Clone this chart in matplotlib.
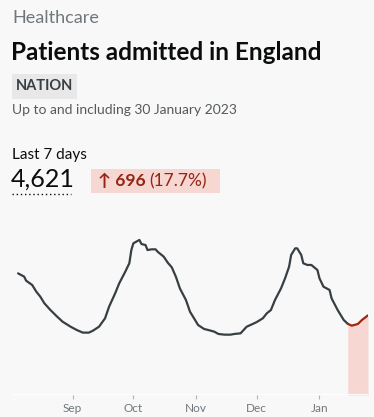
import matplotlib
matplotlib.use("Agg")
import matplotlib.pyplot as plt
import numpy as np
import pandas as pd
from matplotlib.patches import Rectangle
from matplotlib.lines import Line2D

# daily admissions
dates = pd.to_datetime([
    "2022-08-05", "2022-08-08", "2022-08-09", "2022-08-12", "2022-08-14", "2022-08-16",
    "2022-08-18", "2022-08-21", "2022-08-24", "2022-08-27", "2022-08-31", "2022-09-03",
    "2022-09-06", "2022-09-09", "2022-09-11", "2022-09-14", "2022-09-17", "2022-09-19",
    "2022-09-22", "2022-09-24", "2022-09-27", "2022-09-29", "2022-09-30", "2022-10-01",
    "2022-10-03", "2022-10-04", "2022-10-05", "2022-10-07", "2022-10-08", "2022-10-10",
    "2022-10-12", "2022-10-13", "2022-10-16", "2022-10-18", "2022-10-20", "2022-10-22",
    "2022-10-24", "2022-10-27", "2022-10-29", "2022-10-31", "2022-11-02", "2022-11-05",
    "2022-11-07", "2022-11-10", "2022-11-12", "2022-11-15", "2022-11-18", "2022-11-20",
    "2022-11-23", "2022-11-26", "2022-11-29", "2022-12-01", "2022-12-04", "2022-12-06",
    "2022-12-08", "2022-12-10", "2022-12-13", "2022-12-15", "2022-12-17", "2022-12-18",
    "2022-12-20", "2022-12-21", "2022-12-23", "2022-12-24", "2022-12-26", "2022-12-28",
    "2022-12-31", "2023-01-01", "2023-01-03", "2023-01-06", "2023-01-07", "2023-01-10",
    "2023-01-13", "2023-01-15", "2023-01-17", "2023-01-20", "2023-01-22", "2023-01-25",
])
admissions = [
    1012, 985, 951, 915, 860, 818,
    763, 707, 657, 610, 568, 541,
    519, 519, 535, 568, 638, 735,
    846, 929, 1026, 1096, 1206, 1262,
    1281, 1290, 1256, 1248, 1206, 1212,
    1212, 1192, 1151, 1101, 1062, 985,
    887, 790, 693, 638, 582, 549,
    541, 527, 508, 502, 502, 508,
    513, 568, 591, 607, 638, 680,
    707, 790, 887, 971, 1068, 1165,
    1220, 1220, 1165, 1096, 1082, 1082,
    1040, 971, 901, 874, 804, 707,
    624, 592, 577, 591, 624, 663,
]
recent_start = pd.Timestamp("2023-01-15")
month_ticks = pd.to_datetime(["2022-09-01", "2022-10-01", "2022-11-01", "2022-12-01", "2023-01-01"])
month_labels = ["Sep", "Oct", "Nov", "Dec", "Jan"]

W, H = 374, 417
BG = "#f8f8f8"
plt.rcParams["font.family"] = ["Lato", "DejaVu Sans"]

fig = plt.figure(figsize=(W / 100, H / 100), dpi=100, facecolor=BG)


def px(x, y):
    return x / W, 1 - y / H


# header
fig.text(*px(12, 18), "Healthcare", fontsize=13, color="#6f777b", va="center")
fig.text(*px(11, 53), "Patients admitted in England", fontsize=17.5, fontweight="bold",
         color="#0b0c0c", va="center")
fig.patches.append(Rectangle(px(12, 99), 65 / W, 25 / H, transform=fig.transFigure,
                             facecolor="#e8e8e8", edgecolor="none"))
fig.text(*px(44.5, 86.5), "NATION", fontsize=10.5, fontweight="bold", color="#383f43",
         ha="center", va="center")
fig.text(*px(12, 110), "Up to and including 30 January 2023", fontsize=10,
         color="#555a5e", va="center")

# headline figure
fig.text(*px(12, 155), "Last 7 days", fontsize=11, color="#0b0c0c", va="center")
fig.text(*px(11, 179), "4,621", fontsize=18, color="#0b0c0c", va="center")
fig.lines.append(Line2D([12 / W, 71 / W], [1 - 194 / H, 1 - 194 / H], transform=fig.transFigure,
                        color="#0b0c0c", lw=1, linestyle=(0, (1, 2))))
fig.patches.append(Rectangle(px(91, 193), 129 / W, 24 / H, transform=fig.transFigure,
                             facecolor="#f6d7d2", edgecolor="none"))
t1 = fig.text(*px(98, 181), "↑ 696", fontsize=12.5, fontweight="bold", color="#942514",
              va="center")
fig.canvas.draw()
bb = t1.get_window_extent()
fig.text(bb.x1 / W + 4 / W, 1 - 181 / H, "(17.7%)", fontsize=12.5, color="#942514",
         va="center")

# chart
ax = fig.add_axes([12 / W, 22 / H, 356 / W, 175 / H])
ax.set_facecolor(BG)
vals = np.array(admissions)
mask = dates >= recent_start
ax.fill_between(dates[mask], 0, vals[mask], color="#f6d7d2", lw=0)
ax.plot(dates[dates <= recent_start], vals[dates <= recent_start],
        color="#383f43", lw=1.6, solid_capstyle="round")
ax.plot(dates[mask], vals[mask], color="#a1260f", lw=1.6, solid_capstyle="round")
ax.axhline(0, color="white", lw=2)

ax.set_xlim(pd.Timestamp("2022-08-02"), pd.Timestamp("2023-01-25"))
ax.set_ylim(0, 1456)
ax.set_xticks(month_ticks)
ax.set_xticklabels(month_labels)
ax.tick_params(axis="x", length=3, color="#b1b4b6", labelsize=8.5, labelcolor="#6f777b", pad=3)
ax.set_yticks([])
for s in ax.spines.values():
    s.set_visible(False)

fig.savefig("out.png", dpi=100, facecolor=BG)
